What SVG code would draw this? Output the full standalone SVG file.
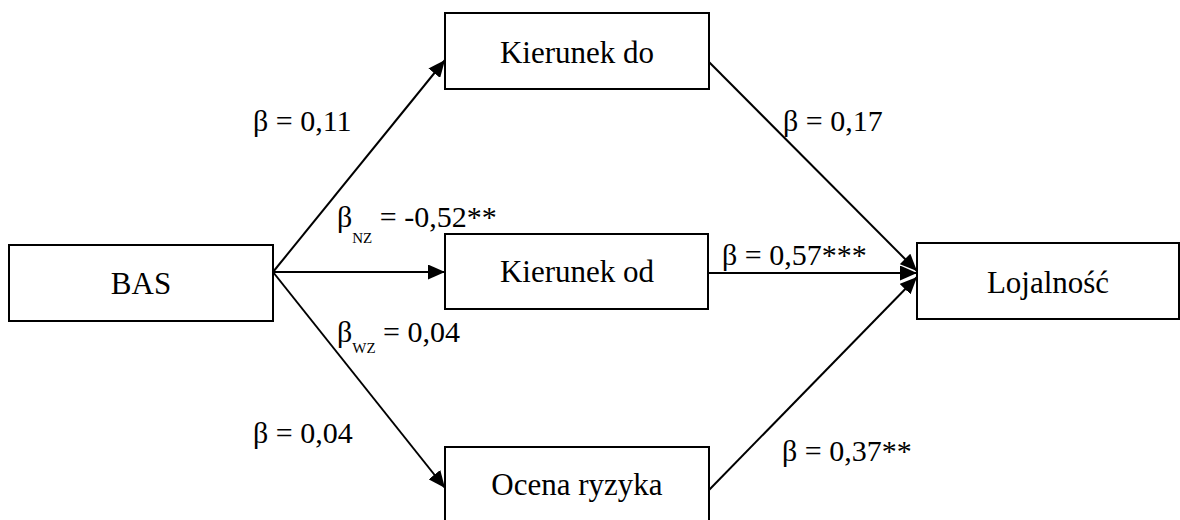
<svg xmlns="http://www.w3.org/2000/svg" width="1180" height="520" viewBox="0 0 1180 520">
<defs>
<marker id="ah" viewBox="0 0 17 15" refX="17" refY="7.5" markerWidth="17" markerHeight="15" markerUnits="userSpaceOnUse" orient="auto">
<path d="M0,0 L17,7.5 L0,15 Z" fill="#000"/>
</marker>
<style>
.box{fill:#fff;stroke:#000;stroke-width:2}
text{font-family:'Liberation Serif','DejaVu Serif','Times New Roman',serif;fill:#000}
.nt{font-size:31px;text-anchor:middle}
.lb{font-size:30px}
.sub{font-size:15px}
.ln{stroke:#000;stroke-width:2;fill:none;marker-end:url(#ah)}
</style>
</defs>
<rect width="1180" height="520" fill="#fff"/>
<g id="connectors">
<line class="ln" x1="273" y1="272" x2="445" y2="60"/>
<line class="ln" x1="273" y1="272" x2="445" y2="272"/>
<line class="ln" x1="273" y1="272" x2="445" y2="488"/>
<line class="ln" x1="709" y1="62" x2="917" y2="271"/>
<line class="ln" x1="708" y1="273" x2="917" y2="273"/>
<line class="ln" x1="709" y1="490" x2="917" y2="277"/>
</g>
<g id="labels">
<text class="lb" x="253" y="131">β = 0,11</text>
<text class="lb" x="783" y="131">β = 0,17</text>
<text class="lb" x="337" y="227">β<tspan class="sub" dy="16">NZ</tspan><tspan dy="-16"> = -0,52**</tspan></text>
<text class="lb" x="722" y="265">β = 0,57***</text>
<text class="lb" x="337" y="342">β<tspan class="sub" dy="11">WZ</tspan><tspan dy="-11"> = 0,04</tspan></text>
<text class="lb" x="253" y="443">β = 0,04</text>
<text class="lb" x="782" y="461">β = 0,37**</text>
</g>
<g id="node-bas">
<rect class="box" x="9" y="245" width="264" height="76"/>
<text class="nt" x="141" y="294">BAS</text>
</g>
<g id="node-kierunek-do">
<rect class="box" x="445" y="13" width="264" height="76"/>
<text class="nt" x="577" y="63">Kierunek do</text>
</g>
<g id="node-kierunek-od">
<rect class="box" x="445" y="234" width="263" height="75"/>
<text class="nt" x="577" y="282">Kierunek od</text>
</g>
<g id="node-ocena-ryzyka">
<rect class="box" x="445" y="447" width="264" height="76"/>
<text class="nt" x="577" y="495">Ocena ryzyka</text>
</g>
<g id="node-lojalnosc">
<rect class="box" x="917" y="243" width="262" height="76"/>
<text class="nt" x="1048" y="293">Lojalność</text>
</g>
</svg>
